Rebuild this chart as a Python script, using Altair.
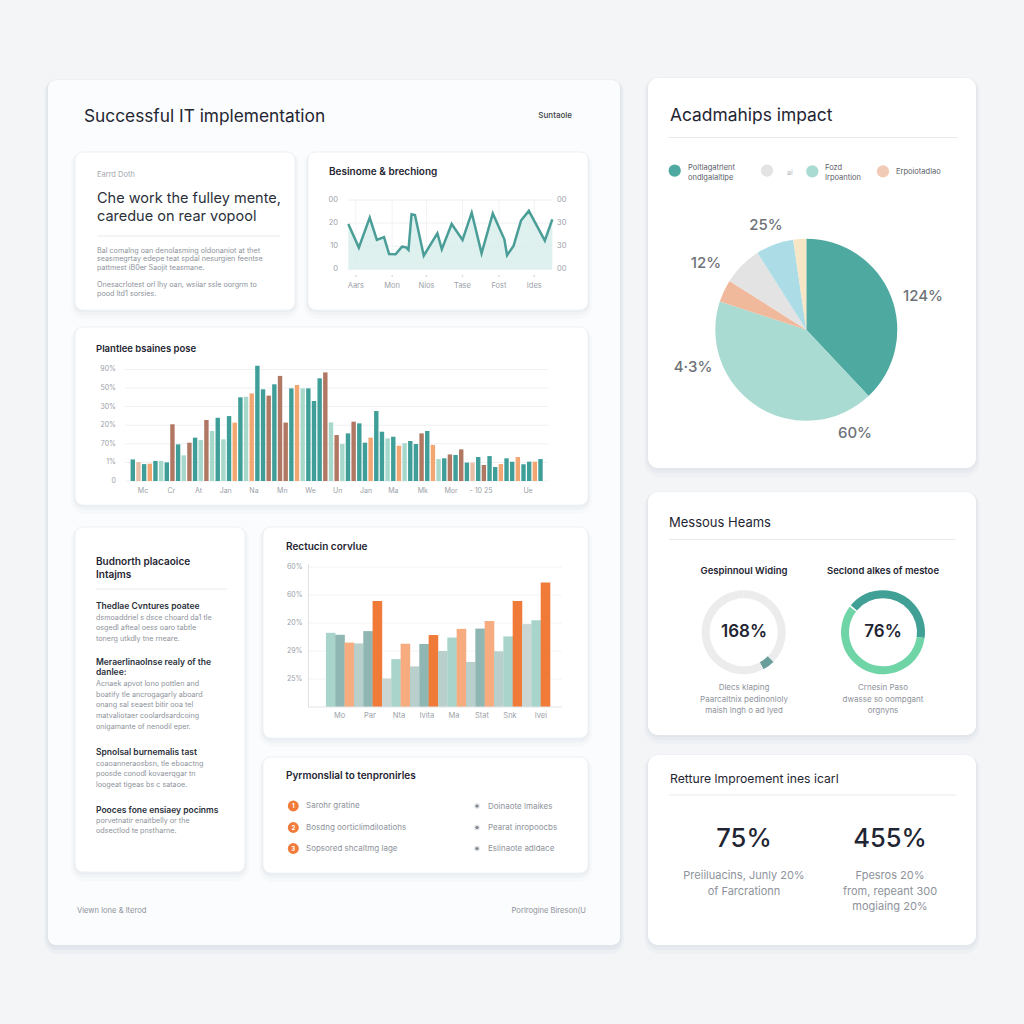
import altair as alt
import pandas as pd

FONT = "Inter"
DARK = "#1f2532"
DARK2 = "#2b303a"
GRAY = "#8e939b"
GRAY_L = "#a3a8ae"
AXIS = "#9ba1a8"
GRID = "#eef0f3"
SEP = "#e7eaee"

# ---------------- data: "Besinome & brechiong" (line) ----------------
trend_t = [0, 3.1, 6.3, 8.4, 10.5, 12.0, 13.9, 15.8, 17.0, 17.7, 18.6, 19.6, 22.2, 26.2,
           27.5, 30.4, 33.6, 36.3, 39.2, 42.5, 45.9, 46.7, 48.6, 50.8, 53.1, 57.8, 60.0]
trend_v = [19.6, 9.4, 22.4, 12.7, 13.9, 6.6, 6.5, 9.8, 9.5, 8.4, 23.8, 23.5, 5.9, 15.6,
           8.7, 19.6, 12.7, 24.5, 6.9, 24.2, 13.0, 6.1, 10.1, 21.1, 25.3, 12.4, 21.6]
trend_labels = ["Aars", "Mon", "Nios", "Tase", "Fost", "Ides"]
trend_label_pos = [2.2, 12.9, 23.0, 33.6, 44.3, 54.7]
trend_ticks = [0, 10, 20, 30]
trend_tick_left = ["0", "10", "20", "00"]
trend_tick_right = ["00", "30", "30", "00"]

# ---------------- data: "Plantlee bsaines pose" (bars) ----------------
pose_values = [1.16, 1.02, 0.91, 0.93, 1.08, 1.08, 1.0, 3.05, 1.97, 1.38,
               2.06, 2.33, 2.2, 3.28, 2.69, 3.4, 2.24, 3.49, 3.14, 4.5,
               4.53, 4.71, 6.2, 4.93, 4.59, 5.2, 5.65, 3.14, 4.98, 5.16,
               4.98, 4.98, 4.3, 5.52, 5.84, 3.15, 2.47, 1.99, 2.56, 3.19,
               3.1, 2.06, 2.33, 3.76, 2.65, 2.29, 2.38, 1.9, 2.03, 2.15,
               1.99, 2.56, 2.69, 1.94, 1.18, 1.22, 1.43, 1.4, 1.7, 0.99,
               0.99, 1.29, 0.86, 1.34, 0.75, 0.91, 1.22, 1.04, 1.29, 0.9,
               1.04, 1.04, 1.18]
pose_series = ["T", "P", "T", "O", "T", "L", "T", "B", "T", "L",
               "B", "T", "L", "B", "L", "T", "L", "T", "O", "T",
               "L", "O", "T", "T", "B", "T", "B", "B", "T", "O",
               "L", "T", "T", "T", "B", "L", "B", "L", "T", "B",
               "T", "T", "O", "T", "T", "L", "T", "O", "L", "T",
               "T", "B", "T", "O", "L", "T", "B", "T", "B", "T",
               "P", "T", "B", "T", "T", "O", "T", "T", "O", "T",
               "T", "O", "T"]
pose_series_names = ["T", "L", "O", "B", "P"]
pose_colors = ["#3f9f98", "#a6d8cc", "#f2a772", "#b07762", "#e8c0a8"]
pose_labels = ["Mc", "Cr", "At", "Jan", "Na", "Mn", "We", "Un", "Jan", "Ma", "Mk", "Mor", "- 10 25", "Ue"]
pose_label_pos = [1.8, 6.8, 11.6, 16.4, 21.4, 26.4, 31.4, 36.2, 41.2, 46.0, 51.2, 56.2, 61.5, 69.8]
pose_ticks = [0, 1, 2, 3, 4, 5, 6]
pose_tick_labels = ["0", "1%", "70%", "20%", "30%", "50%", "90%"]

# ---------------- data: "Rectucin corvlue" (bars) ----------------
rect_values = [2.65, 2.58, 2.30, 2.27, 2.71, 3.79, 1.02, 1.71, 2.26, 1.45, 2.25, 2.57,
               2.0, 2.48, 2.79, 1.61, 2.80, 3.07, 1.99, 2.52, 3.79, 2.96, 3.10, 4.45]
rect_series = ["mint", "sage", "apricot", "mist", "sage", "orange", "fog", "mint",
               "apricot", "mist", "sage", "orange", "mist", "mint", "apricot", "mist",
               "sage", "apricot", "mist", "mint", "orange", "fog", "mint", "orange"]
rect_series_names = ["mint", "sage", "apricot", "mist", "orange", "fog"]
rect_colors = ["#a8d4cb", "#8fb6b3", "#f6ac7e", "#b9cfcb", "#f07a38", "#c9d6d3"]
rect_labels = ["Mo", "Par", "Nta", "Ivita", "Ma", "Stat", "Snk", "Ivei"]
rect_label_pos = [0.95, 4.2, 7.3, 10.3, 13.2, 16.2, 19.2, 22.5]
rect_ticks = [1, 2, 3, 4, 5]
rect_tick_labels = ["25%", "29%", "20%", "60%", "60%"]

# ---------------- data: "Acadmahips impact" (pie) ----------------
pie_slices = ["Poltlagatrlent ondlgalaltlpe", "Fozd Irpoantion", "Erpoiotadlao", "ai", "sky", "cream"]
pie_values = [38, 42, 4, 7, 6.7, 2.3]
pie_colors = ["#4ea9a1", "#a9dbd3", "#f1b99c", "#e3e3e3", "#acdce6", "#f6e6c6"]

# ---------------- data: gauges ----------------
gauge1_parts = ["rest_a", "mark", "rest_b"]
gauge1_values = [37.5, 4.7, 57.8]
gauge1_colors = ["#ececec", "#6a9e9b", "#ececec"]
gauge2_parts = ["a", "b", "gap", "c"]
gauge2_values = [27.2, 58.3, 0.6, 13.9]
gauge2_colors = ["#40a096", "#6fd4a6", "#ffffff", "#40a096"]


# ---------------- helpers ----------------
def box(x0, y0, x1, y1, fill, r=8, stroke=None, sw=1.0, opacity=1.0):
    kw = dict(cornerRadius=r, fill=fill, opacity=opacity)
    if stroke:
        kw.update(stroke=stroke, strokeWidth=sw)
    return alt.Chart().mark_rect(**kw).encode(
        x=alt.value(x0), x2=alt.value(x1), y=alt.value(y0), y2=alt.value(y1))


def card(x0, y0, x1, y1, fill="#ffffff", r=8, strength=1.0, stroke=None):
    return [
        box(x0 - 4, y0 - 1, x1 + 4, y1 + 9, "#d9dfe6", r + 6, opacity=0.18 * strength),
        box(x0 - 2, y0, x1 + 2, y1 + 5, "#d9dfe6", r + 3, opacity=0.28 * strength),
        box(x0 - 1, y0, x1 + 1, y1 + 2, "#dde2e8", r + 1, opacity=0.45 * strength),
        box(x0, y0, x1, y1, fill, r, stroke=stroke),
    ]


def T(x, y, s, size=8.0, color=GRAY, weight=400, align="left"):
    return alt.Chart().mark_text(
        text=s, font=FONT, fontSize=size, color=color, fontWeight=weight,
        align=align, baseline="middle").encode(x=alt.value(x), y=alt.value(y))


def sep(x0, x1, y, color=SEP):
    return alt.Chart().mark_rule(color=color, strokeWidth=1).encode(
        x=alt.value(x0), x2=alt.value(x1), y=alt.value(y))


def dot(x, y, size, color, opacity=1.0):
    return alt.Chart().mark_circle(size=size, color=color, opacity=opacity).encode(
        x=alt.value(x), y=alt.value(y))


layers = []

# ---------------- cards ----------------
layers += card(48, 80, 620, 945, fill="#fbfcfd", r=8, strength=1.4)
for c in [(75, 152, 295, 310), (308, 152, 588, 310), (75, 327, 588, 505),
          (75, 527, 245, 872), (263, 527, 588, 738), (263, 757, 588, 873)]:
    layers += card(*c, fill="#ffffff", r=8, strength=0.7, stroke="#f0f2f5")
for c in [(648, 78, 976, 468), (648, 492, 976, 735), (648, 755, 976, 945)]:
    layers += card(*c, fill="#ffffff", r=10, strength=1.0)

# ---------------- line chart ----------------
tx = alt.Scale(domain=[0, 60], range=[348.3, 552.3], nice=False, zero=False)
ty = alt.Scale(domain=[0, 30], range=[269.3, 200], nice=False, zero=False)
trend_df = pd.DataFrame({"t": trend_t, "v": trend_v})
tlab_df = pd.DataFrame({"p": trend_label_pos, "lab": trend_labels})
ttick_df = pd.DataFrame({"v": trend_ticks, "l": trend_tick_left, "r": trend_tick_right})
X_t = alt.X("t:Q", scale=tx, axis=None)
Y_t = alt.Y("v:Q", scale=ty, axis=None)
trend = alt.layer(
    alt.Chart(ttick_df).mark_rule(color=GRID).encode(
        y=Y_t, x=alt.value(348), x2=alt.value(552)),
    alt.Chart(tlab_df).mark_rule(color="#f1f3f5").encode(
        x=alt.X("p:Q", scale=tx, axis=None), y=alt.value(199), y2=alt.value(269.3)),
    alt.Chart(trend_df).mark_area(color="#d6edeb", opacity=0.8).encode(x=X_t, y=Y_t),
    alt.Chart(trend_df).mark_line(color="#4b9e97", strokeWidth=2.5, strokeJoin="miter").encode(x=X_t, y=Y_t),
    alt.Chart(tlab_df).mark_circle(size=3, color="#b9bec4").encode(
        x=alt.X("p:Q", scale=tx, axis=None), y=alt.value(276)),
    alt.Chart(tlab_df).mark_text(font=FONT, fontSize=7.5, color=AXIS).encode(
        x=alt.X("p:Q", scale=tx, axis=None), y=alt.value(286), text="lab:N"),
    alt.Chart(ttick_df).mark_text(font=FONT, fontSize=7.5, color=AXIS, align="right").encode(
        y=Y_t, x=alt.value(338), text="l:N"),
    alt.Chart(ttick_df).mark_text(font=FONT, fontSize=7.5, color=AXIS, align="left").encode(
        y=Y_t, x=alt.value(557), text="r:N"),
)
layers.append(trend)

# ---------------- big bar chart ----------------
px_ = alt.Scale(domain=[0, 72], range=[127.8, 545.5], nice=False, zero=False)
py_ = alt.Scale(domain=[0, 6], range=[481, 369.4], nice=False, zero=True)
pose_df = pd.DataFrame({"i": list(range(len(pose_values))), "v": pose_values, "s": pose_series})
plab_df = pd.DataFrame({"p": pose_label_pos, "lab": pose_labels})
ptick_df = pd.DataFrame({"v": pose_ticks, "lab": pose_tick_labels})
pose = alt.layer(
    alt.Chart(ptick_df).mark_rule(color=GRID).encode(
        y=alt.Y("v:Q", scale=py_, axis=None), x=alt.value(125), x2=alt.value(548)),
    alt.Chart(pose_df).mark_bar(size=4.4, orient="vertical").encode(
        x=alt.X("i:Q", scale=px_, axis=None),
        y=alt.Y("v:Q", scale=py_, axis=None), y2=alt.datum(0),
        color=alt.Color("s:N", scale=alt.Scale(domain=pose_series_names, range=pose_colors), legend=None)),
    alt.Chart(ptick_df).mark_text(font=FONT, fontSize=7, color=AXIS, align="right").encode(
        y=alt.Y("v:Q", scale=py_, axis=None), x=alt.value(116), text="lab:N"),
    alt.Chart(plab_df).mark_text(font=FONT, fontSize=7, color=AXIS).encode(
        x=alt.X("p:Q", scale=px_, axis=None), y=alt.value(491), text="lab:N"),
)
layers.append(pose)

# ---------------- second bar chart ----------------
rx = alt.Scale(domain=[0, 23], range=[325.7, 550.5], nice=False, zero=False)
ry = alt.Scale(domain=[0, 5], range=[707, 567], nice=False, zero=True)
rect_df = pd.DataFrame({"i": list(range(len(rect_values))), "v": rect_values, "s": rect_series})
rlab_df = pd.DataFrame({"p": rect_label_pos, "lab": rect_labels})
rtick_df = pd.DataFrame({"v": rect_ticks, "lab": rect_tick_labels})
rect = alt.layer(
    alt.Chart(rtick_df).mark_rule(color="#f3f4f6").encode(
        y=alt.Y("v:Q", scale=ry, axis=None), x=alt.value(309), x2=alt.value(562)),
    alt.Chart(rect_df).mark_bar(size=9.6, orient="vertical").encode(
        x=alt.X("i:Q", scale=rx, axis=None),
        y=alt.Y("v:Q", scale=ry, axis=None), y2=alt.datum(0),
        color=alt.Color("s:N", scale=alt.Scale(domain=rect_series_names, range=rect_colors), legend=None)),
    alt.Chart(rtick_df).mark_text(font=FONT, fontSize=7, color=AXIS, align="left").encode(
        y=alt.Y("v:Q", scale=ry, axis=None), x=alt.value(287), text="lab:N"),
    alt.Chart(rlab_df).mark_text(font=FONT, fontSize=7.5, color=AXIS).encode(
        x=alt.X("p:Q", scale=rx, axis=None), y=alt.value(716), text="lab:N"),
)
layers.append(rect)
layers.append(alt.Chart().mark_rule(color="#dfe3e7").encode(
    x=alt.value(308.5), y=alt.value(564), y2=alt.value(707)))
layers.append(alt.Chart().mark_rule(color="#dfe3e7").encode(
    x=alt.value(308.5), x2=alt.value(562), y=alt.value(707)))

# ---------------- pie ----------------
pie_df = pd.DataFrame({"k": list(range(len(pie_values))), "v": pie_values, "s": pie_slices})
layers.append(alt.Chart(pie_df).mark_arc(radius=91).encode(
    theta=alt.Theta("v:Q", stack=True),
    order=alt.Order("k:Q"),
    color=alt.Color("s:N", scale=alt.Scale(domain=pie_slices, range=pie_colors), legend=None),
    x=alt.value(806.3), y=alt.value(329.7)))

# ---------------- gauges ----------------
g1_df = pd.DataFrame({"k": [0, 1, 2], "v": gauge1_values, "s": gauge1_parts})
layers.append(alt.Chart(g1_df).mark_arc(radius=42, radius2=34).encode(
    theta=alt.Theta("v:Q", stack=True), order=alt.Order("k:Q"),
    color=alt.Color("s:N", scale=alt.Scale(domain=gauge1_parts, range=gauge1_colors), legend=None),
    x=alt.value(743.7), y=alt.value(632.3)))
g2_df = pd.DataFrame({"k": [0, 1, 2, 3], "v": gauge2_values, "s": gauge2_parts})
layers.append(alt.Chart(g2_df).mark_arc(radius=42, radius2=34).encode(
    theta=alt.Theta("v:Q", stack=True), order=alt.Order("k:Q"),
    color=alt.Color("s:N", scale=alt.Scale(domain=gauge2_parts, range=gauge2_colors), legend=None),
    x=alt.value(883), y=alt.value(632.3)))

# ---------------- separators ----------------
layers += [sep(97, 280, 236), sep(96, 227, 589), sep(668, 958, 137.5),
           sep(669, 956, 539.5), sep(669, 956, 795)]

# ---------------- list card markers ----------------
for i, yy in enumerate([806, 827.5, 848.5]):
    layers.append(dot(293.3, yy, 120, "#f07b3a"))
    layers.append(T(293.3, yy, str(i + 1), 6, "#ffffff", 700, "center"))
    layers.append(dot(477, yy, 36, "#e4e6e9"))
    layers.append(dot(477, yy, 10, "#7d838a"))

# ---------------- pie legend markers ----------------
layers += [dot(674.7, 170.7, 150, "#4ea9a1"), dot(767, 170.7, 150, "#e3e3e3"),
           dot(812.3, 171.3, 150, "#a9dbd3"), dot(883, 171.3, 150, "#f1cbb6")]

# ---------------- texts ----------------
txts = [
    (84, 117, "Successful IT implementation", 17.3, DARK, 400, "left"),
    (572, 116, "Suntaole", 8, "#3a3f48", 500, "right"),
    (97, 175, "Earrd Doth", 7.5, GRAY_L, 400, "left"),
    (97, 199, "Che work the fulley mente,", 14.5, DARK2, 400, "left"),
    (97, 216.5, "caredue on rear vopool", 14.5, DARK2, 400, "left"),
    (97, 250.5, "Bal comalng oan denolasming oldonaniot at thet", 7.2, GRAY, 400, "left"),
    (97, 259, "seasmegrtay edepe teat spdal nesurgien feentse", 7.2, GRAY, 400, "left"),
    (97, 267.5, "pattmest iB0er Saojit teasmane.", 7.2, GRAY, 400, "left"),
    (97, 284.5, "Onesacrlotest orl lhy oan, wsiiar ssle oorgrm to", 7.2, GRAY, 400, "left"),
    (97, 294, "pood ltd1 sorsies.", 7.2, GRAY, 400, "left"),
    (329, 172, "Besinome & brechiong", 10, DARK, 600, "left"),
    (96, 349, "Plantlee bsaines pose", 9.5, DARK, 600, "left"),
    (96, 562, "Budnorth placaoice", 10, DARK, 600, "left"),
    (96, 575, "Intajms", 10, DARK, 600, "left"),
    (96, 606, "Thedlae Cvntures poatee", 8.5, DARK2, 600, "left"),
    (96, 617.5, "dsmoaddriel s dsce choard da1 tle", 7.2, GRAY, 400, "left"),
    (96, 628, "osgedl afteal oess oaro tabtle", 7.2, GRAY, 400, "left"),
    (96, 638.5, "tonerg utkdly tne rneare.", 7.2, GRAY, 400, "left"),
    (96, 662, "Meraerlinaolnse realy of the", 8.5, DARK2, 600, "left"),
    (96, 672, "danlee:", 8.5, DARK2, 600, "left"),
    (96, 684, "Acnaek apvot lono pottlen and", 7.2, GRAY, 400, "left"),
    (96, 694.5, "boatify tle ancrogagarly aboard", 7.2, GRAY, 400, "left"),
    (96, 705, "onang sal seaest bitir ooa tel", 7.2, GRAY, 400, "left"),
    (96, 715.5, "matvaliotaer coolardsardcoing", 7.2, GRAY, 400, "left"),
    (96, 726.5, "onigamante of nenodil eper.", 7.2, GRAY, 400, "left"),
    (96, 752, "Spnolsal burnemalis tast", 8.5, DARK2, 600, "left"),
    (96, 764, "coaoanneraosbsn, tle eboactng", 7.2, GRAY, 400, "left"),
    (96, 774, "poosde conodl kovaerqgar tn", 7.2, GRAY, 400, "left"),
    (96, 784.5, "loogeat tigeas bs c sataoe.", 7.2, GRAY, 400, "left"),
    (96, 810, "Pooces fone ensiaey pocinms", 8.5, DARK2, 600, "left"),
    (96, 820.5, "porvetnatir enaitbelly or the", 7.2, GRAY, 400, "left"),
    (96, 831, "odsectlod te pnstharne.", 7.2, GRAY, 400, "left"),
    (286, 547, "Rectucin corvlue", 10, DARK, 600, "left"),
    (286, 776, "Pyrmonslial to tenpronirles", 10, DARK, 600, "left"),
    (306, 806, "Sarohr gratine", 8, GRAY, 400, "left"),
    (306, 827.5, "Bosdng oorticlimdiloatiohs", 8, GRAY, 400, "left"),
    (306, 848.5, "Sopsored shcaltmg lage", 8, GRAY, 400, "left"),
    (488, 806.5, "Doinaote lmaikes", 8, GRAY, 400, "left"),
    (488, 827.5, "Pearat inropoocbs", 8, GRAY, 400, "left"),
    (488, 848.5, "Eslinaote adldace", 8, GRAY, 400, "left"),
    (77, 911, "Viewn lone & lterod", 7.6, GRAY, 400, "left"),
    (586, 911, "Porlrogine Bireson(U", 7.6, GRAY, 400, "right"),
    (670, 116, "Acadmahips impact", 17.4, DARK, 400, "left"),
    (688, 168, "Poltlagatrlent", 7.5, "#5b6068", 400, "left"),
    (688, 178, "ondlgalaltlpe", 7.5, "#5b6068", 400, "left"),
    (787, 173, "ai", 7, "#b0b4ba", 400, "left"),
    (825, 168, "Fozd", 7.5, "#5b6068", 400, "left"),
    (825, 178, "Irpoantion", 7.5, "#5b6068", 400, "left"),
    (896, 172, "Erpoiotadlao", 7.5, "#5b6068", 400, "left"),
    (766, 225, "25%", 15, "#6e7278", 500, "center"),
    (706, 263, "12%", 15, "#6e7278", 500, "center"),
    (923, 296, "124%", 15, "#6e7278", 500, "center"),
    (693, 367, "4·3%", 15, "#6e7278", 500, "center"),
    (855, 433, "60%", 15, "#6e7278", 500, "center"),
    (669, 523, "Messous Heams", 13, DARK, 400, "left"),
    (744, 571, "Gespinnoul Widing", 9.5, DARK, 600, "center"),
    (883, 571, "Seclond alkes of mestoe", 9.5, DARK, 600, "center"),
    (744, 632, "168%", 17, DARK, 600, "center"),
    (883, 632, "76%", 17, DARK, 600, "center"),
    (744, 688, "Dlecs klaping", 8, GRAY, 400, "center"),
    (744, 699.5, "Paarcaltnix pedinonloly", 8, GRAY, 400, "center"),
    (744, 711, "maish lngh o ad lyed", 8, GRAY, 400, "center"),
    (883, 688, "Crnesin Paso", 8, GRAY, 400, "center"),
    (883, 699.5, "dwasse so oompgant", 8, GRAY, 400, "center"),
    (883, 711, "orgnyns", 8, GRAY, 400, "center"),
    (670, 779, "Retture lmproement ines icarl", 12.2, DARK, 400, "left"),
    (744, 839, "75%", 25.5, DARK, 500, "center"),
    (890, 839, "455%", 25.5, DARK, 500, "center"),
    (744, 876, "Preiiluacins, Junly 20%", 11, GRAY, 400, "center"),
    (744, 891.5, "of Farcrationn", 11, GRAY, 400, "center"),
    (890, 876, "Fpesros 20%", 11, GRAY, 400, "center"),
    (890, 891.5, "from, repeant 300", 11, GRAY, 400, "center"),
    (890, 907, "mogiaing 20%", 11, GRAY, 400, "center"),
]
for t in txts:
    layers.append(T(*t))

chart = alt.layer(*layers).resolve_scale(
    x="independent", y="independent", color="independent", theta="independent"
).properties(
    width=1024, height=1024, autosize=alt.AutoSizeParams(type="none"), padding=0
).configure(background="#f3f5f7").configure_view(stroke=None)

chart.save("out.html", embed_options={"renderer": "svg", "actions": False})
